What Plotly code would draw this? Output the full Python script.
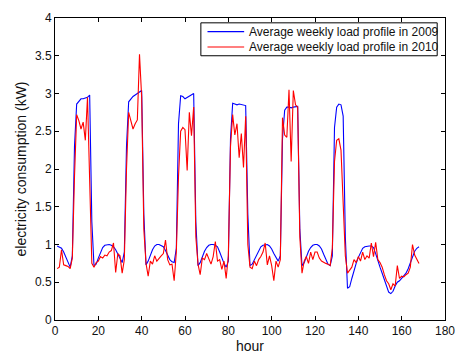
import plotly.graph_objects as go

# Hour of the week (1..168)
hours = list(range(1, 169))

# Average hourly load over a week, 2009 (kW)
load_2009 = [
    0.98, 0.97, 0.95, 0.90, 0.83, 0.76, 0.70, 0.85, 2.30, 2.86, 2.90, 2.93,
    2.93, 2.94, 2.95, 2.98, 1.30, 0.72, 0.74, 0.82, 0.90, 0.96, 0.99, 1.00,
    1.00, 0.99, 0.97, 0.93, 0.88, 0.82, 0.76, 0.90, 2.30, 2.89, 2.93, 2.96,
    2.98, 3.00, 3.03, 3.04, 1.40, 0.73, 0.78, 0.86, 0.93, 0.98, 1.00, 1.00,
    0.99, 0.97, 0.92, 0.85, 0.80, 0.77, 0.76, 0.95, 2.60, 2.97, 2.96, 2.93,
    2.95, 2.97, 2.98, 3.00, 1.30, 0.72, 0.76, 0.84, 0.91, 0.96, 0.99, 1.00,
    1.00, 0.99, 0.97, 0.90, 0.82, 0.75, 0.70, 0.78, 2.40, 2.87, 2.86, 2.85,
    2.86, 2.85, 2.85, 2.84, 1.40, 0.72, 0.74, 0.80, 0.87, 0.93, 0.97, 0.99,
    1.00, 1.00, 0.98, 0.94, 0.88, 0.82, 0.78, 0.85, 2.40, 2.78, 2.82, 2.82,
    2.81, 2.82, 2.83, 2.83, 1.20, 0.72, 0.76, 0.84, 0.91, 0.96, 0.99, 1.00,
    1.00, 0.98, 0.94, 0.87, 0.80, 0.74, 0.72, 0.85, 2.55, 2.82, 2.86, 2.85,
    2.70, 1.10, 0.42, 0.44, 0.55, 0.66, 0.75, 0.83, 0.90, 0.95, 0.97, 0.98,
    0.98, 0.98, 0.96, 0.88, 0.78, 0.70, 0.62, 0.53, 0.44, 0.37, 0.35, 0.38,
    0.45, 0.50, 0.52, 0.55, 0.58, 0.62, 0.68, 0.76, 0.84, 0.91, 0.95, 0.97,
]

# Average hourly load over a week, 2010 (kW)
load_2010 = [
    0.68, 0.70, 0.93, 0.73, 0.72, 0.71, 0.68, 0.82, 1.90, 2.72, 2.64, 2.53,
    2.62, 2.38, 2.95, 1.90, 0.75, 0.70, 0.76, 0.78, 0.84, 0.82, 0.86, 0.85,
    0.90, 0.92, 1.02, 0.63, 0.88, 0.85, 0.62, 0.80, 2.00, 2.75, 2.62, 2.53,
    2.60, 2.65, 3.52, 2.95, 1.20, 0.75, 0.58, 0.78, 0.74, 0.85, 0.78, 0.82,
    0.85, 0.88, 1.06, 0.80, 0.73, 0.74, 0.52, 0.90, 1.90, 2.50, 2.55, 2.52,
    1.98, 2.75, 2.44, 2.82, 1.10, 0.74, 0.60, 0.82, 0.80, 0.88, 0.82, 0.74,
    0.84, 1.04, 0.78, 0.80, 0.67, 0.78, 0.55, 0.85, 2.30, 2.72, 2.45, 2.60,
    2.15, 2.47, 2.02, 2.70, 1.00, 0.70, 0.68, 0.78, 0.72, 0.80, 0.84, 0.90,
    1.02, 0.73, 0.85, 0.72, 0.52, 0.78, 0.70, 0.80, 2.68, 2.45, 2.42, 3.05,
    2.10, 3.04, 2.85, 2.82, 1.10, 0.62, 0.78, 0.84, 0.75, 0.90, 0.80, 0.90,
    0.90, 0.82, 0.78, 0.76, 0.75, 0.74, 0.72, 0.95, 2.10, 2.38, 2.40, 2.25,
    1.60, 0.85, 0.62, 0.66, 0.70, 0.80, 0.76, 0.84, 0.78, 0.90, 0.80, 0.85,
    0.82, 1.02, 0.84, 1.03, 0.80, 0.76, 0.70, 0.60, 0.52, 0.48, 0.40, 0.48,
    0.45, 0.72, 0.55, 0.58, 0.57, 0.60, 0.62, 0.70, 1.00, 0.86, 0.80, 0.75,
]

series_names = ["Average weekly load profile in 2009", "Average weekly load profile in 2010"]
series_colors = ["#0000ff", "#ff0000"]

x_ticks = list(range(0, 181, 20))
y_ticks = [0, 0.5, 1, 1.5, 2, 2.5, 3, 3.5, 4]
y_tick_text = ["0", "0.5", "1", "1.5", "2", "2.5", "3", "3.5", "4"]

font_family = "Liberation Sans, Arial, sans-serif"

fig = go.Figure()
for values, name, color in zip([load_2009, load_2010], series_names, series_colors):
    fig.add_trace(go.Scatter(
        x=hours, y=values, mode="lines", name=name,
        line=dict(color=color, width=1.1),
        showlegend=False,
    ))

axis_common = dict(
    showline=True, linecolor="black", linewidth=1, mirror="ticks",
    ticks="inside", ticklen=4, tickcolor="black", tickwidth=1,
    showgrid=False, zeroline=False,
    tickfont=dict(family=font_family, size=12, color="#111111"),
)

fig.update_xaxes(
    range=[0, 180], tickvals=x_ticks,
    title=dict(text="hour", font=dict(family=font_family, size=14, color="#111111"), standoff=1),
    **axis_common,
)
fig.update_yaxes(
    range=[0, 4], tickvals=y_ticks, ticktext=y_tick_text,
    title=dict(text="electricity consumption (kW)", font=dict(family=font_family, size=14, color="#111111"), standoff=5),
    **axis_common,
)

# Compact MATLAB-style legend box in the upper right corner
box_x0, box_x1 = 0.374, 0.980
box_y0, box_y1 = 0.875, 0.984
sample_x0, sample_x1 = 0.391, 0.485
text_x = 0.492
row_y = [0.955, 0.904]

fig.add_shape(type="rect", xref="paper", yref="paper",
              x0=box_x0, x1=box_x1, y0=box_y0, y1=box_y1,
              line=dict(color="black", width=1), fillcolor="white", layer="above")
for name, color, yy in zip(series_names, series_colors, row_y):
    fig.add_shape(type="line", xref="paper", yref="paper",
                  x0=sample_x0, x1=sample_x1, y0=yy, y1=yy,
                  line=dict(color=color, width=1.1), layer="above")
    fig.add_annotation(xref="paper", yref="paper", x=text_x, y=yy,
                       text=name, showarrow=False, xanchor="left", yanchor="middle",
                       font=dict(family=font_family, size=12, color="#111111"))

fig.update_layout(
    width=466, height=360,
    margin=dict(l=55, r=15, t=11, b=38),
    paper_bgcolor="white", plot_bgcolor="white",
    showlegend=False,
)

fig.write_html("out.html")
